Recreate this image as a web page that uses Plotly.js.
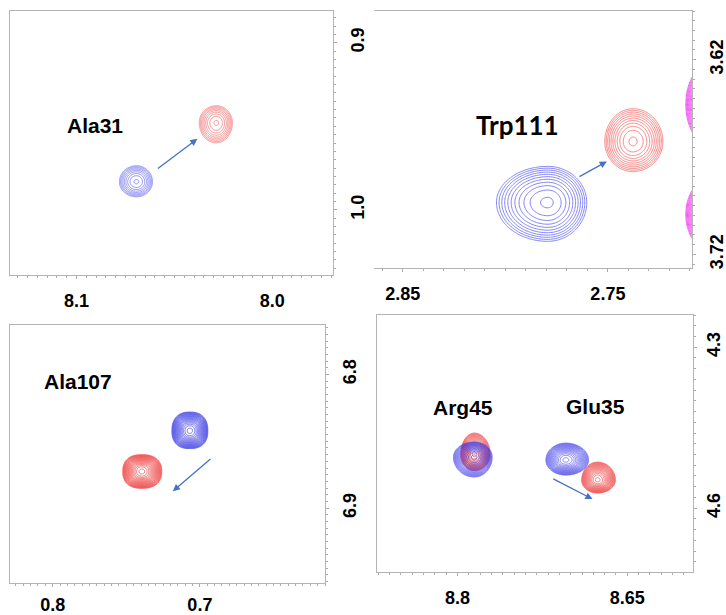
<!DOCTYPE html>
<html>
<head>
<meta charset="utf-8">
<script src="https://cdn.plot.ly/plotly-3.0.1.min.js"></script>
<style>html,body{margin:0;padding:0;background:#fff;}#chart{width:726px;height:615px;}</style>
</head>
<body>
<div id="chart"></div>
<script>
// ---------- DATA (chemical shifts in ppm) ----------
// panel index: 0 = Ala31, 1 = Trp111, 2 = Ala107, 3 = Arg45 / Glu35
const peakPanel  = [0, 0, 1, 1, 1, 1, 1, 2, 2, 3, 3, 3, 3];
const peakState  = ['free','bound','free','bound','other','other','other','free','bound','bound','free','free','bound'];
const peakNames  = ['Ala31','Ala31','Trp111','Trp111','side','side','side','Ala107','Ala107','Arg45','Arg45','Glu35','Glu35'];
const peakX      = [8.0694, 8.0286, 2.7793, 2.7378, 2.702, 2.702, 2.704, 0.7068, 0.7395, 8.7851, 8.7851, 8.7044, 8.6763];
const peakY      = [0.9832, 0.9479, 3.6933, 3.6621, 3.643, 3.6995, 3.591, 6.8422, 6.8726, 4.5000, 4.5048, 4.5104, 4.5477];
// half line widths (left / right / top / bottom as drawn)
const peakWL     = [0.0087, 0.0087, 0.0250, 0.0137, 0.0100, 0.0100, 0.005, 0.0122, 0.0129, 0.0120, 0.0184, 0.0175, 0.0140];
const peakWR     = [0.0082, 0.0082, 0.0190, 0.0146, 0.0100, 0.0100, 0.005, 0.0122, 0.0136, 0.0140, 0.0158, 0.0202, 0.0158];
const peakWT     = [0.0096, 0.0102, 0.0185, 0.0169, 0.0195, 0.0170, 0.006, 0.0141, 0.0126, 0.0400, 0.0280, 0.0317, 0.0335];
const peakWB     = [0.0090, 0.0120, 0.0200, 0.0154, 0.0195, 0.0170, 0.006, 0.0133, 0.0126, 0.0300, 0.0372, 0.0280, 0.0242];

const xRanges    = [[8.134, 7.969], [2.864, 2.709], [0.829, 0.615], [8.871, 8.592]];
const yRanges    = [[1.039, 0.881], [3.727, 3.595], [6.956, 6.763], [4.719, 4.240]];
const xTickVals  = [[8.1, 8.0], [2.85, 2.75], [0.8, 0.7], [8.8, 8.65]];
const xTickText  = [['8.1', '8.0'], ['2.85', '2.75'], ['0.8', '0.7'], ['8.8', '8.65']];
const yTickVals  = [[0.9, 1.0], [3.62, 3.72], [6.8, 6.9], [4.3, 4.6]];
const yTickText  = [['0.9', '1.0'], ['3.62', '3.72'], ['6.8', '6.9'], ['4.3', '4.6']];

// arrows: [from x, from y, to x, to y] in ppm
const arrowFrom  = [[8.0592, 0.9760], [2.7646, 3.6805], [0.6918, 6.8622], [8.7167, 4.5439]];
const arrowTo    = [[8.0383, 0.9575], [2.7505, 3.6723], [0.7184, 6.8874], [8.6807, 4.5831]];

// ---------- STYLE ----------
const W = 726, H = 615;
const boxes = [ // pixel boxes [left, top, right, bottom]
  [10, 11, 333, 275],
  [374, 11, 692, 268],
  [10, 325, 325, 583],
  [377, 315, 693, 572]
];
const minorX = [0.005, 0.01, 0.005, 0.01];
const minorY = [0.005, 0.005, 0.005, 0.02];
const panelStyle = [
  {free: 'rgb(95,95,240)', bound: 'rgb(245,95,95)', n: 9, w: 0.8},
  {free: 'rgb(95,95,240)', bound: 'rgb(245,95,95)', n: 11, w: 0.9},
  {free: 'rgb(30,30,225)', bound: 'rgb(235,30,30)', n: 20, w: 0.7},
  {free: 'rgb(55,55,235)', bound: 'rgb(235,45,45)', n: 18, w: 0.7}
];
const otherColor = 'rgb(240,40,240)';

function axName(i, k) { return k + (i === 0 ? '' : (i + 1)); }

const traces = [];
for (let p = 0; p < peakX.length; p++) {
  const pan = peakPanel[p];
  const st = panelStyle[pan];
  const color = peakState[p] === 'free' ? st.free : (peakState[p] === 'bound' ? st.bound : otherColor);
  const n = peakState[p] === 'other' ? 14 : st.n;
  const x0 = peakX[p], y0 = peakY[p];
  const ex = Math.max(peakWL[p], peakWR[p]) * 1.5;
  const ey = Math.max(peakWT[p], peakWB[p]) * 1.5;
  const N = 90;
  const xs = [], ys = [], zs = [];
  for (let i = 0; i < N; i++) xs.push(x0 - ex + 2 * ex * i / (N - 1));
  for (let j = 0; j < N; j++) ys.push(y0 - ey + 2 * ey * j / (N - 1));
  const pw = pan === 2 ? 2.4 : 2;
  for (let j = 0; j < N; j++) {
    const row = [];
    for (let i = 0; i < N; i++) {
      const dx = xs[i] - x0, dy = ys[j] - y0;
      const a = Math.abs(dx / (dx > 0 ? peakWL[p] : peakWR[p]));
      const b = Math.abs(dy / (dy < 0 ? peakWT[p] : peakWB[p]));
      row.push(-Math.pow(Math.pow(a, pw) + Math.pow(b, pw), 2 / pw));
    }
    zs.push(row);
  }
  traces.push({
    type: 'contour', x: xs, y: ys, z: zs,
    xaxis: axName(pan, 'x'), yaxis: axName(pan, 'y'),
    showscale: false, hoverinfo: 'skip',
    colorscale: [[0, color], [1, color]],
    contours: {coloring: 'lines', start: -1, end: -0.02, size: 0.98 / (n - 1)},
    line: {width: st.w, smoothing: 1},
    opacity: 0.85
  });
}

const layout = {
  width: W, height: H,
  margin: {l: 0, r: 0, t: 0, b: 0},
  paper_bgcolor: '#fff', plot_bgcolor: '#fff',
  showlegend: false,
  annotations: [],
  font: {family: 'Liberation Sans, Arial, sans-serif', color: '#000'}
};

const tickFont = {family: 'Liberation Sans, Arial, sans-serif', size: 18, color: '#000', weight: 'bold'};
const xStandoff = [6, 6, 2, 6];
const yStandoff = [5, 5, 5, 1];
for (let i = 0; i < 4; i++) {
  const b = boxes[i];
  const xa = axName(i, 'xaxis'), ya = axName(i, 'yaxis');
  layout[xa] = {
    domain: [b[0] / W, b[2] / W], range: xRanges[i], anchor: axName(i, 'y'),
    showgrid: false, zeroline: false,
    showline: true, linecolor: '#b4b4b4', linewidth: 1.2, mirror: true,
    ticks: 'outside', ticklen: 3, tickcolor: '#aaa', tickwidth: 1,
    tickmode: 'array', tickvals: xTickVals[i], ticktext: xTickText[i],
    tickfont: tickFont, ticklabelstandoff: xStandoff[i],
    minor: {dtick: minorX[i], tick0: xTickVals[i][0], ticks: 'outside', ticklen: 2, tickcolor: '#aaa', showgrid: false}
  };
  layout[ya] = {
    domain: [1 - b[3] / H, 1 - b[1] / H], range: yRanges[i], anchor: axName(i, 'x'),
    side: 'right',
    showgrid: false, zeroline: false,
    showline: true, linecolor: '#b4b4b4', linewidth: 1.2, mirror: i !== 1,
    ticks: 'outside', ticklen: 3, tickcolor: '#aaa', tickwidth: 1,
    tickmode: 'array', tickvals: yTickVals[i], ticktext: yTickText[i],
    tickfont: tickFont, tickangle: -90, ticklabelstandoff: yStandoff[i],
    minor: {dtick: minorY[i], tick0: yTickVals[i][0], ticks: 'outside', ticklen: 2, tickcolor: '#aaa', showgrid: false}
  };
  layout.annotations.push({
    xref: axName(i, 'x'), yref: axName(i, 'y'), axref: axName(i, 'x'), ayref: axName(i, 'y'),
    x: arrowTo[i][0], y: arrowTo[i][1], ax: arrowFrom[i][0], ay: arrowFrom[i][1],
    text: '', showarrow: true, arrowhead: 2, arrowsize: 1.1, arrowwidth: 1.3, arrowcolor: '#4472c4'
  });
}

// residue labels (pixel positions of label centres)
const labels = [
  {t: 'Ala31', x: 95, y: 125, s: 21, f: 'Liberation Sans, Arial, sans-serif'},
  {t: 'Trp111', x: 517, y: 125, s: 26, f: 'Lato, Carlito, sans-serif'},
  {t: 'Ala107', x: 78, y: 381, s: 21, f: 'Liberation Sans, Arial, sans-serif'},
  {t: 'Arg45', x: 463, y: 407, s: 21, f: 'Liberation Sans, Arial, sans-serif'},
  {t: 'Glu35', x: 595, y: 406, s: 21, f: 'Liberation Sans, Arial, sans-serif'}
];
labels.forEach(l => layout.annotations.push({
  xref: 'paper', yref: 'paper', x: l.x / W, y: 1 - l.y / H,
  xanchor: 'center', yanchor: 'middle', showarrow: false,
  text: l.t, font: {family: l.f, size: l.s, color: '#000', weight: 'bold'}
}));

Plotly.newPlot('chart', traces, layout, {staticPlot: true, displayModeBar: false});
</script>
</body>
</html>
